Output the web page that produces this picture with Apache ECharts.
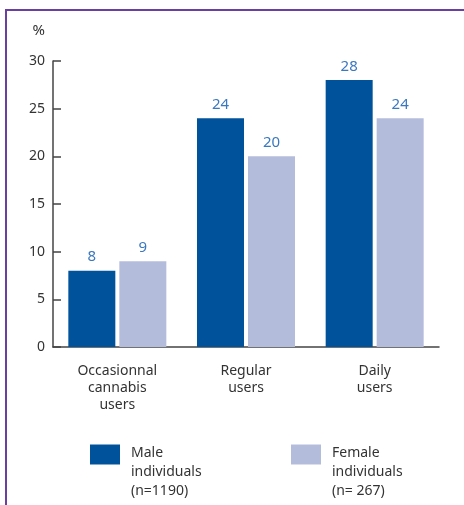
<!DOCTYPE html>
<html>
<head>
<meta charset="utf-8">
<script src="https://cdn.jsdelivr.net/npm/echarts@6/dist/echarts.min.js"></script>
<style>
  html, body { margin: 0; padding: 0; background: #fff; }
  #chart { width: 464px; height: 505px; }
</style>
</head>
<body>
<div id="chart"></div>
<script>
// Share of users by frequency of cannabis use, by sex (%)
const categories = ['Occasionnal\ncannabis\nusers', 'Regular\nusers', 'Daily\nusers'];
const maleValues = [8, 24, 28];
const femaleValues = [9, 20, 24];
const maleName = 'Male individuals (n=1190)';
const femaleName = 'Female individuals (n= 267)';
const legendLines = {};
legendLines[maleName] = ['Male', 'individuals', '(n=1190)'];
legendLines[femaleName] = ['Female', 'individuals', '(n= 267)'];

const FONT = '"Noto Sans", sans-serif';
const maleColor = '#00529b';
const femaleColor = '#b4bcdc';
const labelColor = '#3a78bf';
const textColor = '#333333';
const axisColor = '#444444';
const frameColor = '#6b3fa2';

const chart = echarts.init(document.getElementById('chart'));

// The spacer line pushes the three text lines down so the swatch sits beside the first one
function legendFor(name, left) {
  return {
    data: [name],
    left: left,
    top: 419,
    padding: 0,
    orient: 'vertical',
    icon: 'rect',
    itemWidth: 30,
    itemHeight: 20,
    selectedMode: false,
    formatter: n => '{s| }\n' + legendLines[n].map(l => '{t|' + l + '}').join('\n'),
    textStyle: {
      fontFamily: FONT,
      fontSize: 14,
      color: textColor,
      rich: {
        s: { fontSize: 14, lineHeight: 35 },
        t: { fontFamily: FONT, fontSize: 14, lineHeight: 19, color: textColor, padding: [0, 0, 0, 6] }
      }
    }
  };
}

const labelStyle = {
  show: true,
  position: 'top',
  distance: 6,
  fontFamily: FONT,
  fontSize: 15,
  color: labelColor
};

chart.setOption({
  animation: false,
  backgroundColor: '#ffffff',
  textStyle: { fontFamily: FONT },
  graphic: [{
    type: 'polyline',
    shape: { points: [[6, 505], [6, 10], [464, 10]] },
    style: { stroke: frameColor, lineWidth: 2, fill: null }
  }],
  legend: [legendFor(maleName, 90), legendFor(femaleName, 291)],
  grid: { left: 53, right: 25, top: 61, bottom: 158 },
  xAxis: {
    type: 'category',
    data: categories,
    axisLine: { lineStyle: { color: axisColor, width: 1.5 } },
    axisTick: { inside: true, length: 7, lineStyle: { color: axisColor, width: 1.5 } },
    axisLabel: {
      margin: 16,
      fontFamily: FONT,
      fontSize: 14,
      lineHeight: 17,
      color: textColor
    }
  },
  yAxis: {
    type: 'value',
    min: 0,
    max: 30,
    interval: 5,
    name: '%',
    nameLocation: 'end',
    nameGap: 23,
    nameTextStyle: {
      fontFamily: FONT,
      fontSize: 15,
      color: textColor,
      align: 'right',
      padding: [0, 8, 0, 0]
    },
    axisLine: { show: true, lineStyle: { color: axisColor, width: 1.5 } },
    axisTick: { show: true, inside: true, length: 8, lineStyle: { color: axisColor, width: 1.5 } },
    splitLine: { show: false },
    axisLabel: {
      margin: 8,
      fontFamily: FONT,
      fontSize: 14,
      color: textColor
    }
  },
  series: [
    {
      name: maleName,
      type: 'bar',
      data: maleValues,
      barWidth: 47,
      barGap: '8.5%',
      itemStyle: { color: maleColor },
      label: labelStyle
    },
    {
      name: femaleName,
      type: 'bar',
      data: femaleValues,
      barWidth: 47,
      itemStyle: { color: femaleColor },
      label: labelStyle
    }
  ]
});
</script>
</body>
</html>
